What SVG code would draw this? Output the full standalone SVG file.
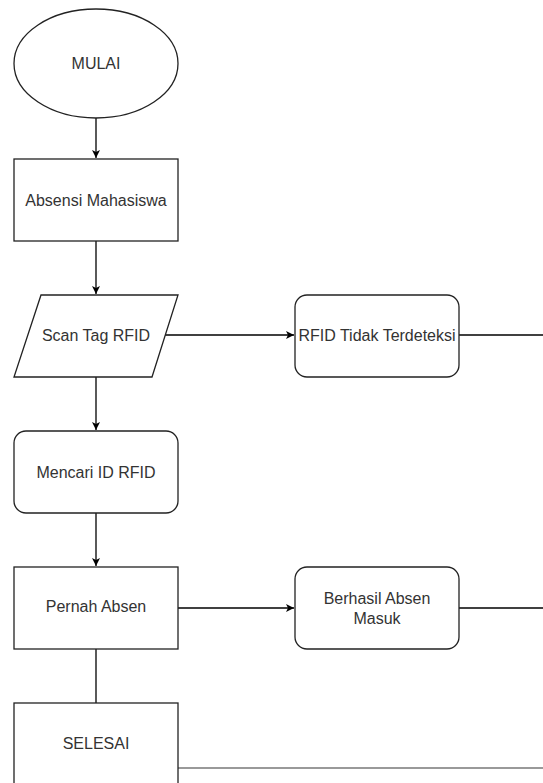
<svg xmlns="http://www.w3.org/2000/svg" width="543" height="783" viewBox="0 0 543 783">
<defs>
<marker id="arr" markerWidth="10" markerHeight="10" refX="8" refY="5" orient="auto" markerUnits="userSpaceOnUse">
<path d="M0,1 L8,5 L0,9 L2,5 Z" fill="#000"/>
</marker>
<style>
.n{fill:#fff;stroke:#222;stroke-width:1.3}
.t{font-family:"Liberation Sans",Arial,sans-serif;font-size:16px;fill:#333;text-anchor:middle;dominant-baseline:central}
.c{fill:none;stroke:#000;stroke-width:1.3}
</style>
</defs>
<rect width="543" height="783" fill="#fff"/>
<g id="connectors">
<line class="c" x1="96" y1="118" x2="96" y2="158" marker-end="url(#arr)"/>
<line class="c" x1="96" y1="241" x2="96" y2="294" marker-end="url(#arr)"/>
<line class="c" x1="165" y1="335" x2="294" y2="335" marker-end="url(#arr)"/>
<line class="c" x1="459" y1="335" x2="543" y2="335"/>
<line class="c" x1="96" y1="377" x2="96" y2="430" marker-end="url(#arr)"/>
<line class="c" x1="96" y1="513" x2="96" y2="566" marker-end="url(#arr)"/>
<line class="c" x1="178" y1="608" x2="294" y2="608" marker-end="url(#arr)"/>
<line class="c" x1="459" y1="608" x2="543" y2="608"/>
<line class="c" x1="96" y1="649" x2="96" y2="703"/>
<line x1="178" y1="768" x2="543" y2="768" stroke="#777" stroke-width="1.6"/>
</g>
<g id="mulai">
<ellipse class="n" cx="96" cy="63.5" rx="82" ry="54.5"/>
<text class="t" x="96" y="63">MULAI</text>
</g>
<g id="absensi">
<rect class="n" x="14" y="159" width="164" height="82"/>
<text class="t" x="96" y="200">Absensi Mahasiswa</text>
</g>
<g id="scan">
<polygon class="n" points="41,295 178,295 152,377 14,377"/>
<text class="t" x="96" y="335">Scan Tag RFID</text>
</g>
<g id="tidak">
<rect class="n" x="295" y="295" width="164" height="82" rx="12" ry="12"/>
<text class="t" x="377" y="335">RFID Tidak Terdeteksi</text>
</g>
<g id="mencari">
<rect class="n" x="14" y="431" width="164" height="82" rx="12" ry="12"/>
<text class="t" x="96" y="472">Mencari ID RFID</text>
</g>
<g id="pernah">
<rect class="n" x="14" y="567" width="164" height="82"/>
<text class="t" x="96" y="606">Pernah Absen</text>
</g>
<g id="berhasil">
<rect class="n" x="295" y="567" width="164" height="82" rx="12" ry="12"/>
<text class="t" x="377" y="598">Berhasil Absen</text>
<text class="t" x="377" y="618">Masuk</text>
</g>
<g id="selesai">
<rect class="n" x="14" y="703" width="164" height="100"/>
<text class="t" x="96" y="743">SELESAI</text>
</g>
</svg>
